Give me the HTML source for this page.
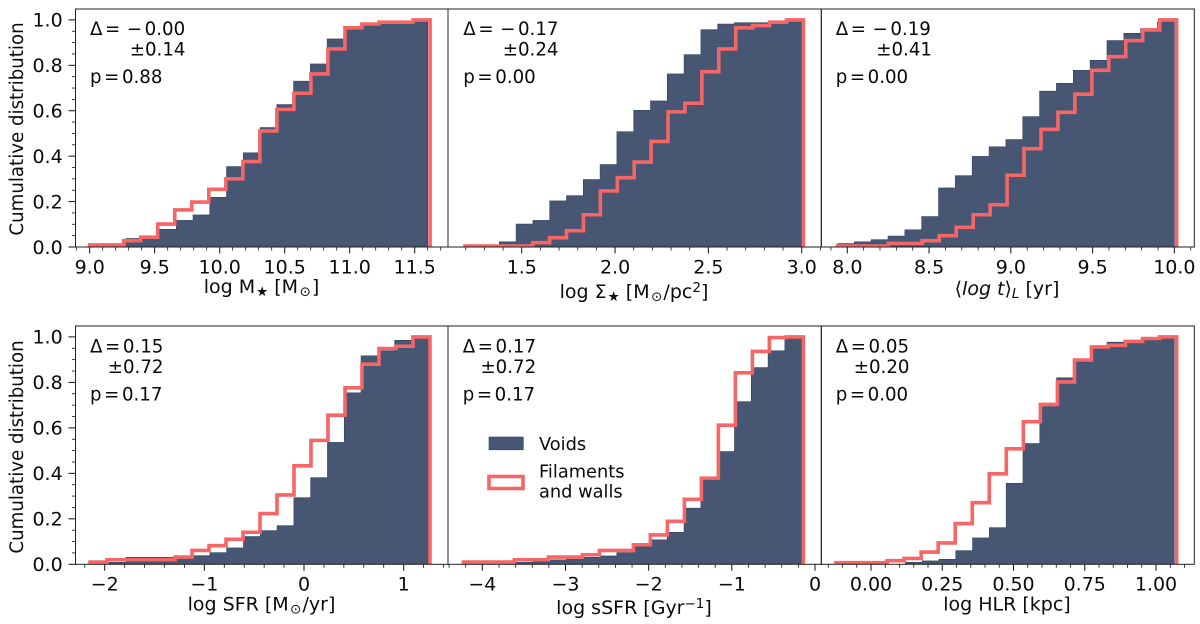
<!DOCTYPE html>
<html lang="en">
<head>
<meta charset="utf-8">
<title>Cumulative distributions</title>
<style>
html,body{margin:0;padding:0;background:#fff;}
svg{display:block;}
text{font-family:"DejaVu Sans","Liberation Sans",sans-serif;fill:#0a0a0a;}
.tick{font-size:19px;}
.lab{font-size:19px;}
.ylab{font-size:18.2px;}
.ann{font-size:18.2px;word-spacing:-3.2px;}
.leg{font-size:17.8px;}
</style>
</head>
<body>
<svg id="chart" xmlns="http://www.w3.org/2000/svg" width="1200" height="624" viewBox="0 0 1200 624">
  <rect width="1200" height="624" fill="#fff"/>
  <g id="marks"></g>

  <text class="ylab" transform="translate(23,129) rotate(-90)" text-anchor="middle">Cumulative distribution</text>
  <text class="ylab" transform="translate(23,447) rotate(-90)" text-anchor="middle">Cumulative distribution</text>

  <text class="lab" x="261.5" y="293" text-anchor="middle">log M<tspan font-size="13.5" dy="3" dx="1">★</tspan><tspan dy="-3"> [M</tspan><tspan font-size="13.5" dy="3" dx="1.5">⊙</tspan><tspan dy="-3" dx="1">]</tspan></text>
  <text class="lab" x="634" y="298" text-anchor="middle">log Σ<tspan font-size="13.5" dy="3" dx="1">★</tspan><tspan dy="-3"> [M</tspan><tspan font-size="13.5" dy="3" dx="1.5">⊙</tspan><tspan dy="-3" dx="1">/pc</tspan><tspan font-size="13.5" dy="-6">2</tspan><tspan dy="6">]</tspan></text>
  <text class="lab" x="1007" y="295" text-anchor="middle">⟨<tspan font-style="italic">log t</tspan>⟩<tspan font-size="13.5" dy="3" font-style="italic">L</tspan><tspan dy="-3"> [yr]</tspan></text>
  <text class="lab" x="261.5" y="610.5" text-anchor="middle">log SFR [M<tspan font-size="13.5" dy="3" dx="1.5">⊙</tspan><tspan dy="-3" dx="1">/yr]</tspan></text>
  <text class="lab" x="634" y="614" text-anchor="middle">log sSFR [Gyr<tspan font-size="13.5" dy="-6">−1</tspan><tspan dy="6">]</tspan></text>
  <text class="lab" x="1007" y="610.5" text-anchor="middle">log HLR [kpc]</text>

  <g>
    <text class="ann" x="90" y="35">Δ = <tspan dx="4">−</tspan> 0.00</text>
    <text class="ann" x="185.5" y="55.5" text-anchor="end">±0.14</text>
    <text class="ann" x="90" y="83">p = 0.88</text>
  </g>
  <g>
    <text class="ann" x="463.3" y="35">Δ = <tspan dx="4">−</tspan> 0.17</text>
    <text class="ann" x="558.5" y="55.5" text-anchor="end">±0.24</text>
    <text class="ann" x="463.3" y="83">p = 0.00</text>
  </g>
  <g>
    <text class="ann" x="835.7" y="35">Δ = <tspan dx="4">−</tspan> 0.19</text>
    <text class="ann" x="932" y="55.5" text-anchor="end">±0.41</text>
    <text class="ann" x="835.7" y="83">p = 0.00</text>
  </g>
  <g>
    <text class="ann" x="90" y="352.5">Δ = 0.15</text>
    <text class="ann" x="163.5" y="373" text-anchor="end">±0.72</text>
    <text class="ann" x="90" y="400.5">p = 0.17</text>
  </g>
  <g>
    <text class="ann" x="462.7" y="352.5">Δ = 0.17</text>
    <text class="ann" x="536.2" y="373" text-anchor="end">±0.72</text>
    <text class="ann" x="462.7" y="400.5">p = 0.17</text>
  </g>
  <g>
    <text class="ann" x="835.7" y="352.5">Δ = 0.05</text>
    <text class="ann" x="909.5" y="373" text-anchor="end">±0.20</text>
    <text class="ann" x="835.7" y="400.5">p = 0.00</text>
  </g>

  <g>
    <rect x="489" y="437" width="34.3" height="12.8" fill="#475672" stroke="#2f4163" stroke-width="0.6"/>
    <text class="leg" x="539" y="450">Voids</text>
    <rect x="489" y="476.5" width="34" height="12" fill="#fff" stroke="#f56666" stroke-width="3.6"/>
    <text class="leg" x="539" y="477.5">Filaments</text>
    <text class="leg" x="539" y="497.5">and walls</text>
  </g>
</svg>
<script>
// ---- shared y axis ----
const yMajorTicks = [0, 0.2, 0.4, 0.6, 0.8, 1.0];
const yTickLabels = ['0.0', '0.2', '0.4', '0.6', '0.8', '1.0'];
const yMinorStep = [0.05];
const yDomain = [0, 1.048];

// ---- log stellar mass ----
const massVoidRange = [9.279, 11.6];
const massVoidValues = [.038,.040,.078,.117,.141,.219,.354,.415,.526,.627,.730,.806,.916,.959,.978,.985,.985,.991];
const massWallRange = [9.0, 11.618];
const massWallValues = [.009,.009,.028,.043,.101,.163,.198,.254,.300,.376,.511,.606,.677,.762,.872,.965,.982,.990,.990,1.0];
const massTicks = [9, 9.5, 10, 10.5, 11, 11.5];
const massTickLabels = ['9.0', '9.5', '10.0', '10.5', '11.0', '11.5'];
const massMinorStep = [0.1];
const massDomain = [8.891, 11.756];

// ---- log surface density ----
const densityVoidRange = [1.38, 3.0];
const densityVoidValues = [.023,.101,.117,.203,.226,.297,.363,.508,.602,.643,.762,.847,.957,.982,.988,.988,.991,.991];
const densityWallRange = [1.196, 3.009];
const densityWallValues = [.004,.004,.004,.004,.019,.041,.072,.142,.247,.305,.374,.465,.595,.633,.772,.872,.965,.975,.990,1.0];
const densityTicks = [1.5, 2, 2.5, 3];
const densityTickLabels = ['1.5', '2.0', '2.5', '3.0'];
const densityMinorStep = [0.1];
const densityDomain = [1.105, 3.105];

// ---- light-weighted age ----
const ageVoidRange = [7.94, 10.0];
const ageVoidValues = [.015,.023,.032,.048,.076,.134,.260,.314,.399,.441,.473,.574,.686,.721,.778,.822,.909,.941,.962,.991];
const ageWallRange = [7.94, 10.014];
const ageWallValues = [.004,.004,.004,.016,.016,.028,.050,.087,.142,.186,.316,.433,.518,.593,.673,.778,.838,.909,.956,1.0];
const ageTicks = [8, 8.5, 9, 9.5, 10];
const ageTickLabels = ['8.0', '8.5', '9.0', '9.5', '10.0'];
const ageMinorStep = [0.1];
const ageDomain = [7.841, 10.122];

// ---- log SFR ----
const sfrVoidRange = [-1.956, 1.247];
const sfrVoidValues = [.009,.031,.031,.031,.032,.038,.051,.072,.122,.148,.170,.293,.381,.536,.754,.917,.939,.985,.994];
const sfrWallRange = [-2.147, 1.264];
const sfrWallValues = [.010,.020,.020,.020,.020,.032,.061,.082,.110,.141,.223,.305,.433,.545,.656,.776,.880,.949,.959,1.0];
const sfrTicks = [-2, -1, 0, 1];
const sfrTickLabels = ['−2', '−1', '0', '1'];
const sfrMinorStep = [0.2];
const sfrDomain = [-2.293, 1.445];

// ---- log sSFR ----
const ssfrVoidRange = [-3.595, -0.16];
const ssfrVoidValues = [.009,.013,.020,.023,.031,.037,.051,.081,.108,.141,.247,.375,.496,.715,.865,.939,.994];
const ssfrWallRange = [-4.228, -0.14];
const ssfrWallValues = [.010,.010,.010,.020,.020,.032,.032,.042,.061,.061,.086,.129,.189,.286,.379,.612,.842,.936,.997,1.0];
const ssfrTicks = [-4, -3, -2, -1, 0];
const ssfrTickLabels = ['−4', '−3', '−2', '−1', '0'];
const ssfrMinorStep = [0.2];
const ssfrDomain = [-4.413, 0.0757];

// ---- log half-light radius ----
const hlrVoidRange = [0.1205, 1.064];
const hlrVoidValues = [.009,.015,.022,.060,.116,.161,.356,.531,.694,.820,.890,.953,.977,.985,.988,.994];
const hlrWallRange = [-0.123, 1.0725];
const hlrWallValues = [.007,.007,.007,.016,.026,.054,.094,.179,.271,.398,.508,.627,.703,.802,.898,.956,.963,.980,.993,1.0];
const hlrTicks = [0, 0.25, 0.5, 0.75, 1];
const hlrTickLabels = ['0.00', '0.25', '0.50', '0.75', '1.00'];
const hlrMinorStep = [0.05];
const hlrDomain = [-0.1744, 1.1344];

// ---- layout only ----
const NS = 'http://www.w3.org/2000/svg';
const root = document.getElementById('marks');
const defs = document.createElementNS(NS, 'defs');
root.appendChild(defs);
const ROW = [
  { top: 9, bottom: 247, tickBase: 273.5 },
  { top: 326, bottom: 564.3, tickBase: 590.5 }
];
const COL = [[75.5, 448], [448, 821.3], [821.3, 1194.3]];

function mk(tag, attrs, parent) {
  const el = document.createElementNS(NS, tag);
  for (const k in attrs) el.setAttribute(k, attrs[k]);
  parent.appendChild(el);
  return el;
}

function edge(range, count, i) {
  return range[0] + (range[1] - range[0]) * i / count;
}

function drawPanel(key, row, col, voidRange, voidValues, wallRange, wallValues, domain, ticks, tickLabels, minorStep) {
  const L = COL[col][0], R = COL[col][1], T = ROW[row].top, B = ROW[row].bottom;
  const xAxis = v => L + (v - domain[0]) / (domain[1] - domain[0]) * (R - L);
  const yAxis = v => B - (v - yDomain[0]) / (yDomain[1] - yDomain[0]) * (B - T);

  const g = mk('g', {}, root);
  
  

  const clip = mk('clipPath', { id: 'clip-' + key }, defs);
  mk('rect', { x: L, y: T, width: R - L, height: B - T }, clip);

  // voids: filled step histogram
  let d = 'M' + xAxis(voidRange[0]).toFixed(2) + ' ' + yAxis(0).toFixed(2);
  voidValues.forEach((v, i) => {
    const n = voidValues.length;
    d += 'L' + xAxis(edge(voidRange, n, i)).toFixed(2) + ' ' + yAxis(v).toFixed(2);
    d += 'L' + xAxis(edge(voidRange, n, i + 1)).toFixed(2) + ' ' + yAxis(v).toFixed(2);
  });
  d += 'L' + xAxis(voidRange[1]).toFixed(2) + ' ' + yAxis(0).toFixed(2) + 'Z';
  const voidPath = mk('path', { d: d, fill: '#475672', stroke: '#2f4163', 'stroke-width': 0.6, 'clip-path': 'url(#clip-' + key + ')' }, g);
  
  

  // filaments and walls: outlined step histogram
  let w = 'M' + xAxis(wallRange[0]).toFixed(2) + ' ' + yAxis(0).toFixed(2);
  wallValues.forEach((v, i) => {
    const n = wallValues.length;
    w += 'L' + xAxis(edge(wallRange, n, i)).toFixed(2) + ' ' + yAxis(v).toFixed(2);
    w += 'L' + xAxis(edge(wallRange, n, i + 1)).toFixed(2) + ' ' + yAxis(v).toFixed(2);
  });
  w += 'L' + xAxis(wallRange[1]).toFixed(2) + ' ' + yAxis(0).toFixed(2);
  const wallPath = mk('path', { d: w, fill: 'none', stroke: '#f66666', 'stroke-width': 3.6, 'stroke-linejoin': 'miter', 'clip-path': 'url(#clip-' + key + ')' }, g);
  
  

  // x ticks
  ticks.forEach((v, i) => {
    const tick = mk('line', { x1: xAxis(v), x2: xAxis(v), y1: B, y2: B + 6.5, stroke: '#111', 'stroke-width': 1 }, g);
    
    
    const lab = mk('text', { x: xAxis(v), y: ROW[row].tickBase, 'text-anchor': 'middle', class: 'tick' }, g);
    
    
    lab.textContent = tickLabels[i];
  });
  const step = minorStep[0];
  for (let k = Math.ceil(domain[0] / step); k * step <= domain[1]; k++) {
    const v = k * step;
    if (ticks.some(t => Math.abs(t - v) < step / 10)) continue;
    const minor = mk('line', { x1: xAxis(v), x2: xAxis(v), y1: B, y2: B + 3.5, stroke: '#111', 'stroke-width': 0.8 }, g);
    
    
  }

  // y ticks on the left column only
  if (col === 0) {
    yMajorTicks.forEach((v, i) => {
      const tick = mk('line', { x1: L - 7, x2: L, y1: yAxis(v), y2: yAxis(v), stroke: '#111', 'stroke-width': 1 }, g);
      
      
      const lab = mk('text', { x: 62.7, y: yAxis(v) + 6.8, 'text-anchor': 'end', class: 'tick' }, g);
      
      
      lab.textContent = yTickLabels[i];
    });
    for (let k = 1; k * yMinorStep[0] <= yDomain[1]; k++) {
      const v = k * yMinorStep[0];
      if (yMajorTicks.some(t => Math.abs(t - v) < 0.001)) continue;
      const minor = mk('line', { x1: L - 3.5, x2: L, y1: yAxis(v), y2: yAxis(v), stroke: '#111', 'stroke-width': 0.8 }, g);
      
      
    }
  }

  // spines
  const frame = mk('rect', { x: L, y: T, width: R - L, height: B - T, fill: 'none', stroke: '#222', 'stroke-width': 1 }, g);
  
  
}

drawPanel('mass', 0, 0, massVoidRange, massVoidValues, massWallRange, massWallValues, massDomain, massTicks, massTickLabels, massMinorStep);
drawPanel('surface-density', 0, 1, densityVoidRange, densityVoidValues, densityWallRange, densityWallValues, densityDomain, densityTicks, densityTickLabels, densityMinorStep);
drawPanel('age', 0, 2, ageVoidRange, ageVoidValues, ageWallRange, ageWallValues, ageDomain, ageTicks, ageTickLabels, ageMinorStep);
drawPanel('sfr', 1, 0, sfrVoidRange, sfrVoidValues, sfrWallRange, sfrWallValues, sfrDomain, sfrTicks, sfrTickLabels, sfrMinorStep);
drawPanel('ssfr', 1, 1, ssfrVoidRange, ssfrVoidValues, ssfrWallRange, ssfrWallValues, ssfrDomain, ssfrTicks, ssfrTickLabels, ssfrMinorStep);
drawPanel('hlr', 1, 2, hlrVoidRange, hlrVoidValues, hlrWallRange, hlrWallValues, hlrDomain, hlrTicks, hlrTickLabels, hlrMinorStep);
</script>
</body>
</html>
